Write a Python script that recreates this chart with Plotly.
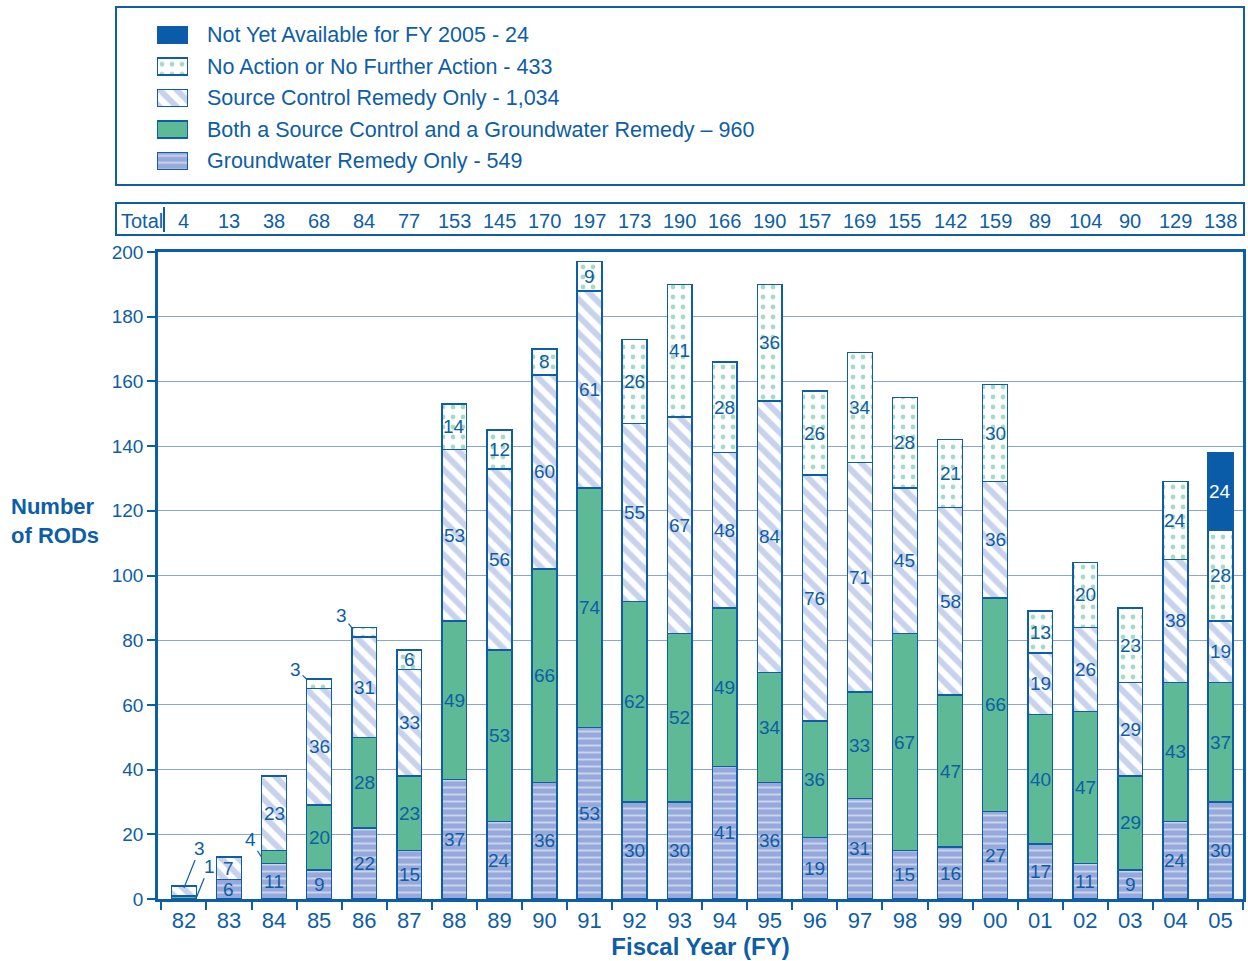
import plotly.graph_objects as go

years = ["82", "83", "84", "85", "86", "87", "88", "89", "90", "91", "92", "93",
         "94", "95", "96", "97", "98", "99", "00", "01", "02", "03", "04", "05"]
groundwater_only = [0, 6, 11, 9, 22, 15, 37, 24, 36, 53, 30, 30, 41, 36, 19, 31, 15, 16, 27, 17, 11, 9, 24, 30]
both_remedies = [1, 0, 4, 20, 28, 23, 49, 53, 66, 74, 62, 52, 49, 34, 36, 33, 67, 47, 66, 40, 47, 29, 43, 37]
source_control_only = [3, 7, 23, 36, 31, 33, 53, 56, 60, 61, 55, 67, 48, 84, 76, 71, 45, 58, 36, 19, 26, 29, 38, 19]
no_action = [0, 0, 0, 3, 3, 6, 14, 12, 8, 9, 26, 41, 28, 36, 26, 34, 28, 21, 30, 13, 20, 23, 24, 28]
not_yet_available = [0, 0, 0, 0, 0, 0, 0, 0, 0, 0, 0, 0, 0, 0, 0, 0, 0, 0, 0, 0, 0, 0, 0, 24]

DARK = "#0D5EA6"
GREEN = "#5DB996"
LBLUE = "#97A8DA"
FONT = "Liberation Sans, Arial, sans-serif"
W, H = 1248, 961


def px(x):
    return x / W


def py(y):
    return 1 - y / H


series = [
    ("Groundwater Remedy Only - {:,}", groundwater_only,
     dict(shape="-", bgcolor=LBLUE, fgcolor="white", size=7, solidity=0.28), LBLUE, DARK),
    ("Both a Source Control and a Groundwater Remedy \u2013 {:,}", both_remedies,
     None, GREEN, DARK),
    ("Source Control Remedy Only - {:,}", source_control_only,
     dict(shape="\\", bgcolor="white", fgcolor="#93A6DA", size=12, solidity=0.5), "white", DARK),
    ("No Action or No Further Action - {:,}", no_action,
     dict(shape=".", bgcolor="white", fgcolor="#4FB58E", size=10, solidity=0.18), "white", DARK),
    ("Not Yet Available for FY 2005 - {:,}", not_yet_available,
     None, "#0B5CA8", "white"),
]

fig = go.Figure()
annotations = []
base = [0] * len(years)
for k, (name, vals, pat, col, tcol) in enumerate(series):
    marker = dict(color=col, line=dict(color=DARK, width=1.5))
    if pat:
        marker["pattern"] = pat
    label = name.format(sum(vals))
    fig.add_trace(go.Bar(
        x=years, y=vals, name=label, marker=marker, hoverinfo="skip",
        xaxis="x", yaxis="y", showlegend=False,
    ))
    # value labels centred in each segment (small ones are handled below)
    for i, v in enumerate(vals):
        if v >= 5:
            annotations.append(dict(x=i, y=base[i] + v / 2, xref="x", yref="y", text=str(v),
                                    showarrow=False, xanchor="center", yanchor="middle",
                                    font=dict(size=19, color=tcol, family=FONT)))
        base[i] += v
    # legend swatch (drawn on a small auxiliary axis) + legend text
    fig.add_trace(go.Bar(
        x=[1], y=[k], orientation="h", marker=marker, hoverinfo="skip",
        xaxis="x2", yaxis="y2", showlegend=False,
    ))
    annotations.append(dict(x=px(205), y=k, xref="paper", yref="y2", text=label,
                            xanchor="left", yanchor="middle", showarrow=False,
                            font=dict(size=21.5, color=DARK, family=FONT)))

# small values labelled outside with leader lines: (series index, year) -> (tip dx, tip frac, ax, ay)
small_label_style = {
    (2, "82"): (0.0, 0.8, 16, -40),
    (1, "82"): (0.27, 0.2, 13, -32),
    (1, "84"): (-0.28, 0.5, -11, -17),
    (3, "85"): (-0.28, 1.0, -11, -10),
    (3, "86"): (-0.28, 1.0, -10, -12),
}
for (si, yr), (dx, fr, ax, ay) in small_label_style.items():
    i = years.index(yr)
    b0 = sum(series[k][1][i] for k in range(si))
    v = series[si][1][i]
    annotations.append(dict(
        x=i + dx, y=b0 + v * fr, xref="x", yref="y", text=str(v),
        showarrow=True, arrowhead=0, arrowwidth=1.2, arrowcolor=DARK, ax=ax, ay=ay,
        standoff=0, font=dict(size=19, color=DARK, family=FONT)))

# Totals row
totals = [sum(s[1][i] for s in series) for i in range(len(years))]
for i, t in enumerate(totals):
    annotations.append(dict(x=i, y=py(221), xref="x", yref="paper", text=str(t),
                            xanchor="center", yanchor="middle",
                            showarrow=False, font=dict(size=20, color=DARK, family=FONT)))
annotations.append(dict(x=px(119), y=py(221), xref="paper", yref="paper", text="Total",
                        xanchor="left", yanchor="middle", showarrow=False,
                        font=dict(size=20, color=DARK, family=FONT)))
annotations.append(dict(x=px(9), y=py(521), xref="paper", yref="paper",
                        text="<b>Number<br>of RODs</b>", xanchor="left", yanchor="middle",
                        align="left", showarrow=False,
                        font=dict(size=22, color=DARK, family=FONT)))

shapes = [
    dict(type="rect", xref="paper", yref="paper", x0=px(116), x1=px(1244), y0=py(185), y1=py(7),
         line=dict(color=DARK, width=2)),
    dict(type="rect", xref="paper", yref="paper", x0=px(116), x1=px(1244), y0=py(235), y1=py(203),
         line=dict(color=DARK, width=2)),
    dict(type="line", xref="paper", yref="paper", x0=px(164), x1=px(164), y0=py(232), y1=py(207),
         line=dict(color=DARK, width=2)),
]

fig.update_layout(
    width=W, height=H,
    margin=dict(l=0, r=0, t=0, b=0, autoexpand=False),
    barmode="stack", bargap=0.45,
    plot_bgcolor="rgba(0,0,0,0)", paper_bgcolor="white",
    font=dict(family=FONT, color=DARK),
    showlegend=False,
    annotations=annotations, shapes=shapes,
    xaxis=dict(
        domain=[px(158), px(1243)], automargin=False,
        type="category", range=[-0.575, len(years) - 0.5], autorange=False,
        showline=True, linecolor=DARK, linewidth=2.5, mirror=True,
        ticks="outside", tickson="boundaries", ticklen=8, tickcolor=DARK, tickwidth=1.5,
        tickfont=dict(size=22, color=DARK, family=FONT), showgrid=False, tickangle=0,
        title=dict(text="<b>Fiscal Year (FY)</b>", font=dict(size=24, color=DARK, family=FONT),
                   standoff=2),
    ),
    yaxis=dict(
        domain=[py(899), py(252)], automargin=False,
        range=[0, 200], dtick=20, showline=True, linecolor=DARK, linewidth=2.5, mirror=True,
        ticks="outside", ticklen=8, tickcolor=DARK, tickwidth=1.5,
        tickfont=dict(size=19, color=DARK, family=FONT),
        showgrid=True, gridcolor="#8DA3D6", gridwidth=1, zeroline=False,
    ),
    xaxis2=dict(domain=[px(157), px(188)], anchor="y2", range=[0, 1], visible=False,
                fixedrange=True, automargin=False),
    yaxis2=dict(domain=[py(176.75), py(19.25)], anchor="x2", range=[-0.5, 4.5],
                visible=False, fixedrange=True, automargin=False),
)

fig.write_html("out.html", config={"displayModeBar": False},
               post_script="document.body.style.margin='0';document.body.style.overflow='hidden';")
